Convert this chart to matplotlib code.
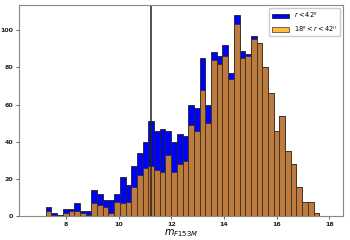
import numpy as np
import matplotlib
matplotlib.use("Agg")
import matplotlib.pyplot as plt

# bin edges (48 bins)
edges = np.linspace(7.24, 17.62, 49)

# counts per bin
all_counts = [5, 2, 1, 4, 4, 7, 3, 3, 14, 12, 9, 9, 12, 21, 17, 27, 34, 40, 51, 46,
              47, 46, 40, 44, 43, 60, 58, 85, 60, 88, 86, 92, 77, 108, 89, 87, 97, 93, 80, 66,
              46, 54, 35, 28, 16, 8, 8, 2]
ring_counts = [3, 1, 0, 2, 3, 3, 2, 1, 7, 6, 5, 2, 8, 7, 8, 16, 22, 26, 27, 25,
               24, 33, 24, 28, 30, 49, 46, 68, 50, 84, 82, 86, 74, 103, 85, 86, 95, 93, 80, 66,
               46, 54, 35, 28, 16, 8, 8, 2]
cut_mag = 11.25

centers = 0.5 * (edges[:-1] + edges[1:])

fig = plt.figure(figsize=(3.5, 2.4), dpi=100)
ax = fig.add_axes([0.054, 0.098, 0.926, 0.881])

ax.hist(centers, bins=edges, weights=all_counts, color="blue",
        edgecolor="#222222", linewidth=0.6, label=r"$r < 42''$")
ax.hist(centers, bins=edges, weights=ring_counts, color="orange", alpha=0.75,
        edgecolor="#222222", linewidth=0.6, label=r"$18'' < r < 42''$")
ax.axvline(cut_mag, color="#222222", lw=1.1)

ax.set_xlim(6.22, 18.52)
ax.set_ylim(0, 113.4)
ax.set_xticks([8, 10, 12, 14, 16, 18])
ax.set_yticks([0, 20, 40, 60, 80, 100])
ax.tick_params(labelsize=4.5, length=2, width=0.5, pad=2, colors="#222222")
for lab in ax.get_xticklabels() + ax.get_yticklabels():
    lab.set_fontweight("bold")
for s in ax.spines.values():
    s.set_color("#888888")
ax.set_xlabel(r"$m_{F153M}$", fontsize=7, labelpad=0)
ax.legend(fontsize=4.8, loc="upper right", handlelength=2.6, framealpha=1,
          borderaxespad=0.4)

fig.savefig("out.png", dpi=100)
